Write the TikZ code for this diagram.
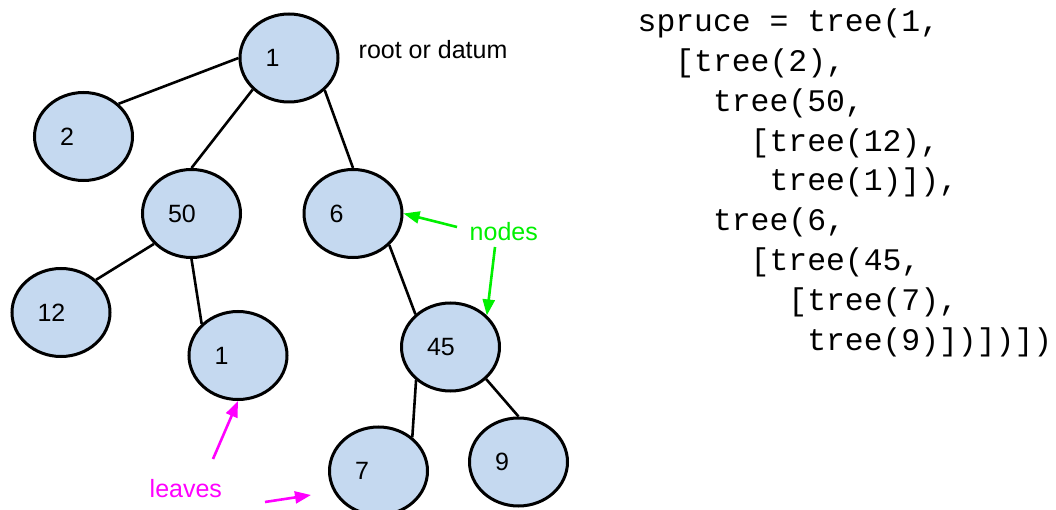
\documentclass[tikz,border=0pt]{standalone}
\usepackage{fontspec}
\setmainfont{Liberation Sans}
\newfontfamily\codefont{Liberation Mono}
\usetikzlibrary{shapes.geometric,arrows.meta}

\definecolor{nodeblue}{RGB}{197,217,240}
\definecolor{notegreen}{RGB}{0,240,0}
\definecolor{leafpink}{RGB}{255,0,255}

\tikzset{
  treenode/.style={ellipse,draw,line width=3bp,fill=nodeblue,
    minimum width=98bp,minimum height=88bp,inner sep=0pt,
    text width=47bp,align=left,font=\fontsize{25bp}{29bp}\selectfont},
  note/.style={anchor=base west,inner sep=0pt,font=\fontsize{25bp}{29bp}\selectfont},
  codeline/.style={anchor=base west,inner sep=0pt,font=\codefont\fontsize{31.4bp}{38bp}\selectfont},
  greenarrow/.style={-{Triangle[length=16bp,width=12bp]},line width=2.6bp,notegreen},
  pinkarrow/.style={-{Triangle[length=16bp,width=12bp]},line width=2.6bp,leafpink}
}

\begin{document}
\begin{tikzpicture}[x=1bp,y=-1bp]
  \useasboundingbox (0,0) rectangle (1056,510);
  \clip (0,0) rectangle (1056,510);

  % the tree
  \node[treenode] (t1)  at (289,58)      {1};
  \node[treenode] (t2)  at (83.5,136.5)  {2};
  \node[treenode] (t50) at (191.5,213.5) {50};
  \node[treenode] (t6)  at (353,213.5)   {6};
  \node[treenode] (t12) at (61,312.5)    {12};
  \node[treenode] (t1b) at (238,355.5)   {1};
  \node[treenode] (t45) at (450.5,347)   {45};
  \node[treenode] (t7)  at (378.5,471)   {7};
  \node[treenode] (t9)  at (518.5,462)   {9};

  \path[line width=2.6bp]
    (t1.180)  edge (t2.43)
    (t1.221)  edge (t50.90)
    (t1.318)  edge (t6.90)
    (t50.219) edge (t12.43)
    (t50.270) edge (t1b.139)
    (t6.319)  edge (t45.137)
    (t45.224) edge (t7.45)
    (t45.318) edge (t9.90);

  % labels and pointers
  \node[note] (rootlbl) at (358.5,59) {root or datum};
  \node[note,text=notegreen] (nodeslbl) at (469.5,241) {nodes};
  \node[note,text=leafpink] (leaveslbl) at (149.5,497) {leaves};

  \coordinate (nodesA) at (457,227);
  \coordinate (nodesB) at (495,247);
  \coordinate (leavesA) at (213,459);
  \coordinate (leavesB) at (265,502);
  \coordinate (leavesEnd) at (311,495);

  \draw[greenarrow] (nodesA) -- (t6.east);
  \draw[greenarrow] (nodesB) -- (t45.41);
  \draw[pinkarrow] (leavesA) -- (t1b.south);
  \draw[pinkarrow] (leavesB) -- (leavesEnd);

  % the code
  \foreach \ind/\txt [count=\i] in {0/{spruce = tree(1,}, 2/{[tree(2),},
      4/{tree(50,}, 6/{[tree(12),}, 7/{tree(1)]),}, 4/{tree(6,},
      6/{[tree(45,}, 8/{[tree(7),}, 9/{tree(9)])])])}}
    \node[codeline] (code\i) at ({637.5+18.84*\ind},{31.7+39.8*(\i-1)}) {\txt};
\end{tikzpicture}
\end{document}
